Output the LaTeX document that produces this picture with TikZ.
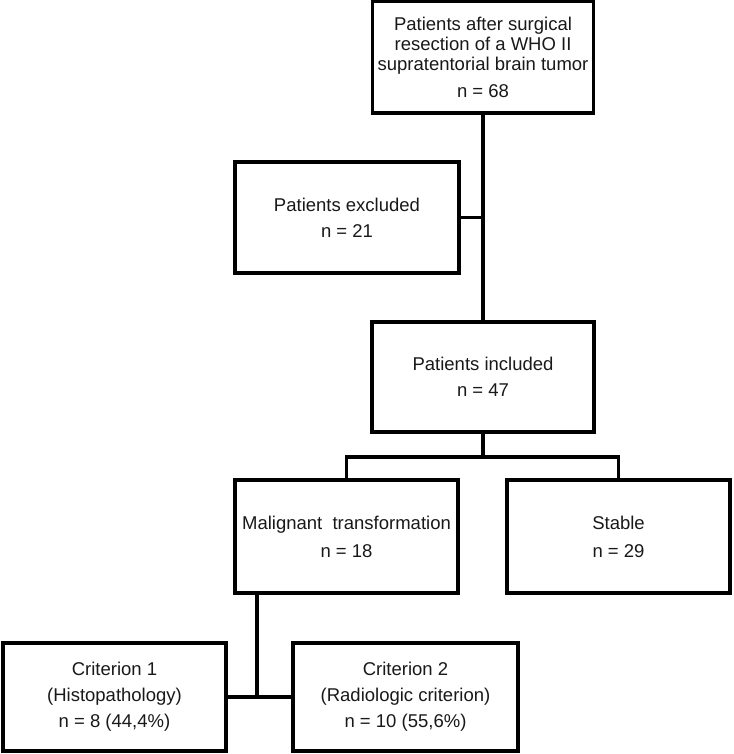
\documentclass[tikz,border=0pt]{standalone}
\usepackage{fontspec}
\setmainfont{Liberation Sans}
\begin{document}
\begin{tikzpicture}[x=1pt,y=-1pt,
  box/.style={draw=black, line width=3.6pt, fill=white, inner sep=0pt, align=center,
    font=\fontsize{18.5}{20}\selectfont, text=black!90},
  conn/.style={draw=black, line width=3.6pt}]
\useasboundingbox (0,0) rectangle (733,754);
% boxes
\node[box, minimum width=221pt, minimum height=112pt] (b1) at (483,57)
  {Patients after surgical\\resection of a WHO II\\supratentorial brain tumor\\[7pt]n = 68};
\node[box, minimum width=224pt, minimum height=111pt] (b2) at (347,217.5)
  {Patients excluded\\[6pt]n = 21};
\node[box, minimum width=222pt, minimum height=110pt] (b3) at (483,377)
  {Patients included\\[6pt]n = 47};
\node[box, minimum width=223pt, minimum height=113pt] (b4) at (346.5,536.5)
  {Malignant\ \ transformation\\[8pt]n = 18};
\node[box, minimum width=223pt, minimum height=113pt] (b5) at (618.5,536.5)
  {Stable\\[8pt]n = 29};
\node[box, minimum width=223pt, minimum height=108pt] (b6) at (114.5,697)
  {Criterion 1\\[6pt](Histopathology)\\[6pt]n = 8 (44,4\%)};
\node[box, minimum width=225pt, minimum height=108pt] (b7) at (405.5,697)
  {Criterion 2\\[6pt](Radiologic criterion)\\[6pt]n = 10 (55,6\%)};
% junctions
\coordinate (j1) at (483,457);
\coordinate (j2) at (257,697);
% connectors
\draw[conn] (b1.south) -- (b3.north);
\draw[conn] (b2.east) -- (b2.east -| b1.south);
\draw[conn] (b3.south) -- (j1);
\draw[conn] (b4.north) |- (j1) -| (b5.north);
\draw[conn] (b4.south -| j2) -- (j2);
\draw[conn] (b6.east) -- (b7.west);
\end{tikzpicture}
\end{document}
